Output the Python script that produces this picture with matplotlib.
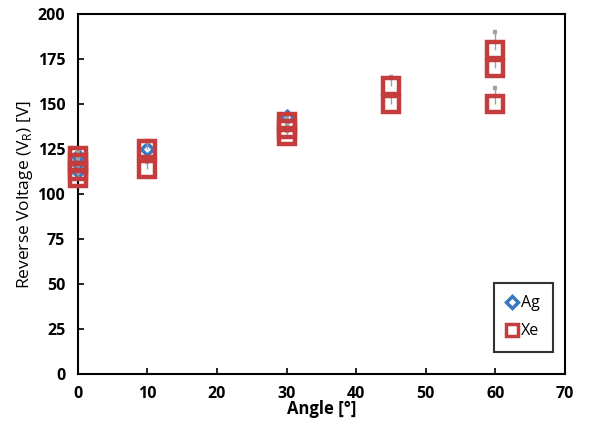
import matplotlib.pyplot as plt
from matplotlib.lines import Line2D

plt.rcParams['font.family'] = ['Open Sans', 'DejaVu Sans']

# Ag series
ag_angle = [0, 0, 0, 10, 30]
ag_volt = [121, 117, 113, 125, 143]
ag_err = [3, 3, 3, 5, 3]

# Xe series
xe_angle = [0, 0, 0, 0, 10, 10, 30, 30, 30, 45, 45, 60, 60, 60]
xe_volt = [121, 117, 113, 109, 125, 114, 140, 136, 132, 160, 150, 180, 170, 150]
xe_err = [3, 3, 3, 3, 4, 4, 3, 3, 3, 5, 5, 10, 5, 9]

x_ticks = [0, 10, 20, 30, 40, 50, 60, 70]
y_ticks = [0, 25, 50, 75, 100, 125, 150, 175, 200]

fig = plt.figure(figsize=(5.98, 4.25), dpi=100)
ax = fig.add_axes([0.13, 0.12, 0.815, 0.847])

blue = '#3a78c2'
red = '#c43c3c'

# plus-side error bars only, the minus side sits hidden under the markers
ag = ax.errorbar(ag_angle, ag_volt, yerr=[[0] * len(ag_err), ag_err], fmt='D', ms=6.5,
                 mfc='white', mec=blue, mew=2.5, ecolor='#a0a0a0', elinewidth=1,
                 capsize=1.5, zorder=3)
xe = ax.errorbar(xe_angle, xe_volt, yerr=[[0] * len(xe_err), xe_err], fmt='s', ms=11.5,
                 mfc='none', mec=red, mew=3.2, ecolor='#a0a0a0', elinewidth=1,
                 capsize=1.5, zorder=4)
for cont in (ag, xe):
    for art in cont.get_children():
        art.set_clip_on(False)
    cont[1][0].set_visible(False)  # drop the cap at the zero-length lower side

ax.set_xlim(0, 70)
ax.set_ylim(0, 200)
ax.set_xticks(x_ticks)
ax.set_yticks(y_ticks)
ax.tick_params(direction='in', length=4, width=1.2, labelsize=11.5, pad=9)
for lab in ax.get_xticklabels() + ax.get_yticklabels():
    lab.set_fontweight('bold')
for s in ax.spines.values():
    s.set_linewidth(1.5)

ax.set_xlabel('Angle [°]', fontsize=12, fontweight='bold', labelpad=-2)
ax.set_ylabel('Reverse Voltage (V$_\\mathregular{R}$) [V]', fontsize=12.5, labelpad=2)

handles = [
    Line2D([], [], ls='none', marker='D', ms=6, mfc='white', mec=blue, mew=2.5),
    Line2D([], [], ls='none', marker='s', ms=8, mfc='white', mec=red, mew=2.5),
]
leg = ax.legend(handles, ['Ag', 'Xe'], loc='lower right', bbox_to_anchor=(0.975, 0.061),
                borderaxespad=0, frameon=True, fancybox=False, edgecolor='black',
                handlelength=0.6, handletextpad=0.3, labelspacing=0.75, borderpad=0.8,
                fontsize=11.5)
leg.get_frame().set_linewidth(1.5)

fig.savefig('out.png', dpi=100)
